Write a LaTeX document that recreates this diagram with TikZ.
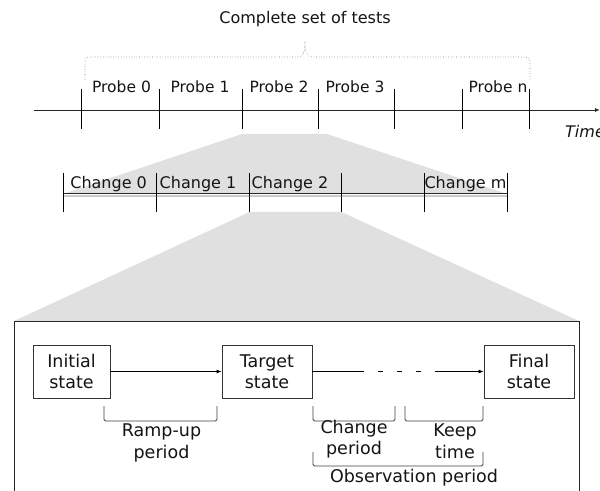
\documentclass[tikz,border=0pt]{standalone}
\usepackage{fontspec}
\setmainfont{DejaVu Sans}
\usetikzlibrary{arrows.meta}
\definecolor{zoomgray}{HTML}{E0E0E0}
\begin{document}
\begin{tikzpicture}[x=1bp,y=-1bp,
  lbl/.style={font=\fontsize{15.5bp}{19bp}\selectfont, text=black!92, inner sep=0pt, anchor=base},
  blbl/.style={font=\fontsize{17.5bp}{21.5bp}\selectfont, text=black!92, inner sep=0pt, align=center},
  statebox/.style={draw=black!80, line width=0.8bp, fill=white, align=center, inner sep=0pt,
    minimum height=53bp, font=\fontsize{17.5bp}{21.5bp}\selectfont, text=black!92},
  tickline/.style={line width=0.9bp, draw=black},
  brk/.style={draw=black!75, line width=0.8bp, rounded corners=1.5bp},
  tip/.style={-{Latex[length=5bp,width=4bp]}}]
\useasboundingbox (0,0) rectangle (600,491);
% zoom trapezoids
\fill[zoomgray] (242,134) -- (327,134) -- (507,194) -- (63,194) -- cycle;
\fill[zoomgray] (249.5,212) -- (341.4,212) -- (579,321) -- (14,321) -- cycle;
% top timeline
\node[lbl, font=\fontsize{16bp}{19bp}\selectfont] (title) at (305,24) {Complete set of tests};
\draw[black!55, line width=0.6bp, dotted]
  (85,80) -- (85,64) .. controls (85,58) and (86,57) .. (92,57) -- (298,57)
  .. controls (303,57) and (305,52) .. (305,42)
  .. controls (305,52) and (307,57) .. (312,57) -- (523,57)
  .. controls (529,57) and (530,58) .. (530,64) -- (530,80);
\coordinate (tstart) at (34,110);
\coordinate (tend) at (600,110);
\draw[tip, line width=0.9bp, black!85] (tstart) -- (tend);
\foreach \x in {81,159,242,318,394,462,529} \draw[tickline] (\x,89) -- (\x,129);
\node[lbl] (p0) at (121.5,93) {Probe 0};
\node[lbl] (p1) at (200,93) {Probe 1};
\node[lbl] (p2) at (279,93) {Probe 2};
\node[lbl] (p3) at (355,93) {Probe 3};
\node[lbl] (pn) at (498,93) {Probe n};
\node[lbl, anchor=base west, font=\fontsize{16bp}{19bp}\selectfont\itshape] (time) at (565,138) {Time};
% change bar
\draw[line width=2bp, black!20] (63,195.8) -- (507,195.8);
\draw[line width=1bp, black!85] (63,194) -- (507,194);
\foreach \x in {63,156,249.5,341.4,424,507} \draw[tickline] (\x,173) -- (\x,212);
\node[lbl, font=\fontsize{16bp}{19bp}\selectfont] (c0) at (108.6,188.5) {Change 0};
\node[lbl, font=\fontsize{16bp}{19bp}\selectfont] (c1) at (198,188.5) {Change 1};
\node[lbl, font=\fontsize{16bp}{19bp}\selectfont] (c2) at (290,188.5) {Change 2};
\node[lbl, font=\fontsize{16bp}{19bp}\selectfont] (cm) at (465.5,188.5) {Change m};
% detail box
\draw[black!85, line width=0.9bp, fill=white] (14,321) rectangle (579,520);
\node[statebox, minimum width=77bp] (init) at (71.5,371.5) {Initial\\state};
\node[statebox, minimum width=90bp] (target) at (267,371.5) {Target\\state};
\node[statebox, minimum width=90bp] (final) at (529,371.5) {Final\\state};
\coordinate (d1) at (364,371.5);
\coordinate (d2) at (435,371.5);
\draw[tip, line width=0.8bp] (init) -- (target);
\draw[line width=0.8bp] (target.east) -- (d1);
\draw[line width=0.8bp, dash pattern=on 5bp off 14bp, dash phase=5bp] (d1) -- (d2);
\draw[tip, line width=0.8bp] (d2) -- (final.west);
% brackets
\draw[brk] (104,406) -- (104,421) -- (217,421) -- (217,406);
\draw[brk] (313,406) -- (313,421) -- (395,421) -- (395,406);
\draw[brk] (405,406) -- (405,421) -- (483,421) -- (483,406);
\draw[brk] (313,452) -- (313,466) -- (483,466) -- (483,452);
\node[blbl] (ramp) at (161.5,443) {Ramp-up\\period};
\node[blbl] (chg) at (354,439) {Change\\period};
\node[blbl] (keep) at (455,441) {Keep\\time};
\node[blbl] (obs) at (414,478) {Observation period};
\end{tikzpicture}
\end{document}
